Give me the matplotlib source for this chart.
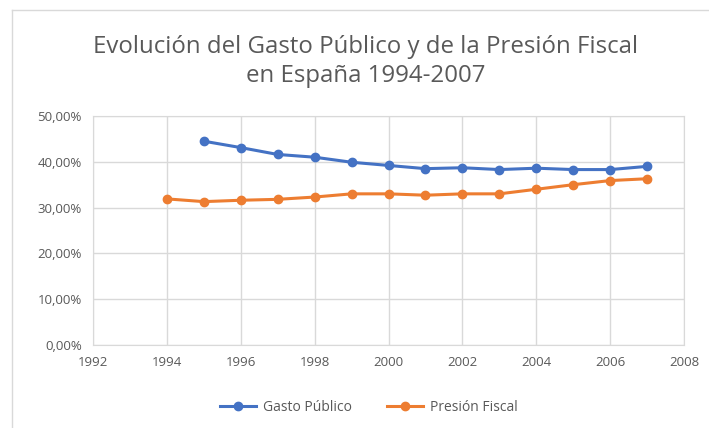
#!/usr/bin/env python3

import matplotlib
matplotlib.use("Agg")
import matplotlib.pyplot as plt
from matplotlib.ticker import FuncFormatter
from matplotlib.lines import Line2D

years_gasto = [1995, 1996, 1997, 1998, 1999, 2000, 2001, 2002, 2003, 2004, 2005, 2006, 2007]
gasto = [44.5, 43.1, 41.6, 41.0, 39.9, 39.2, 38.5, 38.7, 38.3, 38.6, 38.3, 38.3, 39.0]

years_presion = [1994, 1995, 1996, 1997, 1998, 1999, 2000, 2001, 2002, 2003, 2004, 2005, 2006, 2007]
presion = [31.9, 31.3, 31.6, 31.8, 32.3, 33.0, 33.0, 32.7, 33.0, 33.0, 34.0, 35.0, 35.9, 36.3]

x_ticks = list(range(1992, 2009, 2))
y_ticks = [0, 10, 20, 30, 40, 50]

BLUE = "#4472C4"
ORANGE = "#ED7D31"
GREY = "#595959"
GRID = "#D9D9D9"


def main():
    plt.rcParams["font.family"] = ["Open Sans", "DejaVu Sans"]

    fig = plt.figure(figsize=(7.09, 4.28), dpi=100)
    ax = fig.add_axes([0.131, 0.194, 0.834, 0.535])

    ax.plot(years_gasto, gasto, color=BLUE, lw=2.2, marker="o", ms=6, label="Gasto Público")
    ax.plot(years_presion, presion, color=ORANGE, lw=2.2, marker="o", ms=6, label="Presión Fiscal")

    ax.set_xlim(1992, 2008)
    ax.set_ylim(0, 50)
    ax.set_xticks(x_ticks)
    ax.set_yticks(y_ticks)
    ax.yaxis.set_major_formatter(FuncFormatter(lambda v, p: ("%.2f%%" % v).replace(".", ",")))

    ax.grid(True, color=GRID, lw=1)
    ax.set_axisbelow(True)
    for s in ax.spines.values():
        s.set_color(GRID)
    ax.tick_params(length=0, colors=GREY, labelsize=9.5, pad=8)

    fig.text(0.516, 0.918, "Evolución del Gasto Público y de la Presión Fiscal\nen España 1994-2007",
             ha="center", va="top", fontsize=17.3, color=GREY, linespacing=1.3)

    handles = [Line2D([], [], color=BLUE, lw=2.2, marker="o", ms=6),
               Line2D([], [], color=ORANGE, lw=2.2, marker="o", ms=6)]
    fig.legend(handles, ["Gasto Público", "Presión Fiscal"], loc="center",
               bbox_to_anchor=(0.52, 0.048), ncol=2, frameon=False,
               fontsize=10, labelcolor=GREY, handlelength=2.6, handletextpad=0.5,
               columnspacing=2.5)

    # chart border (only top and left edges visible)
    fig.add_artist(Line2D([12 / 709, 1], [1 - 10 / 428] * 2, color=GRID, lw=1))
    fig.add_artist(Line2D([12 / 709] * 2, [0, 1 - 10 / 428], color=GRID, lw=1))

    fig.savefig("out.png", dpi=100)


if __name__ == '__main__':
    main()
